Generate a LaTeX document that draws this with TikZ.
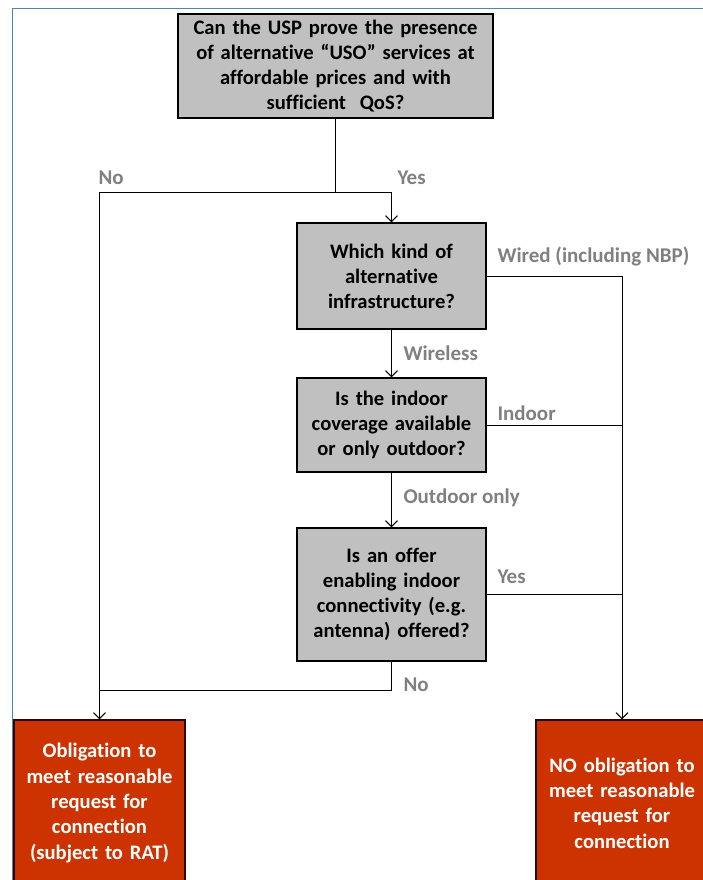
\documentclass[tikz,border=0pt]{standalone}
\usepackage{fontspec}
\setmainfont[Ligatures=NoCommon]{Carlito}
\usetikzlibrary{arrows.meta}
\definecolor{boxgray}{HTML}{C0C0C0}
\definecolor{outred}{HTML}{CC3300}
\definecolor{lblgray}{HTML}{808080}
\definecolor{framblue}{HTML}{4F81BD}
\tikzset{
  question/.style={draw=black,line width=1.3pt,fill=boxgray,align=center,inner sep=3pt,
    font=\fontsize{20.6}{25}\selectfont\bfseries},
  outcome/.style={draw=black!80!outred,line width=1.3pt,fill=outred,text=white,align=center,inner sep=3pt,
    font=\fontsize{20.6}{25.3}\selectfont\bfseries},
  answer/.style={anchor=west,text=lblgray,inner sep=0pt,font=\fontsize{21}{24}\selectfont\bfseries},
  arr/.style={-{Straight Barb[length=6pt,width=12pt]}},
}
\begin{document}
\begin{tikzpicture}[x=1pt,y=-1pt,line width=1pt]
\useasboundingbox (0,0) rectangle (703,880);
\clip (0,0) rectangle (703,880);
% frame
\draw[framblue,line width=1.5pt] (12.5,920) -- (12.5,8.5) -- (740,8.5);

% questions
\node[question,text width=309pt,minimum height=104pt] (q1) at (335.5,66)
  {Can the USP prove the presence\\of alternative “USO” services at\\affordable prices and with\\sufficient\ \ QoS?};
\node[question,text width=183pt,minimum height=106pt] (q2) at (391.5,276)
  {Which kind of\\alternative\\infrastructure?};
\node[question,text width=183pt,minimum height=94pt] (q3) at (391.5,425)
  {Is the indoor\\coverage available\\or only outdoor?};
\node[question,text width=183pt,minimum height=133pt] (q4) at (391.5,594.5)
  {Is an offer\\enabling indoor\\connectivity (e.g.\\antenna) offered?};

% outcomes
\node[outcome,text width=165pt,minimum height=166pt] (ob) at (99.5,803)
  {Obligation to\\meet reasonable\\request for\\connection\\(subject to RAT)};
\node[outcome,text width=166pt,minimum height=166pt] (nob) at (622,803)
  {NO obligation to\\meet reasonable\\request for\\connection};

% helper points
\coordinate (split) at (q1.south |- 0,192);
\coordinate (noJoin) at (ob.north |- 0,690);

% connectors
\draw (q1.south) -- (split);
\draw[arr] (split) -| (q2.north);
\draw[arr] (split) -| (ob.north);
\draw[arr] (q2.east) -| (nob.north);
\draw (q3.east) -- (q3.east -| nob.north);
\draw (q4.east) -- (q4.east -| nob.north);
\draw[arr] (q2) -- (q3);
\draw[arr] (q3) -- (q4);
\draw (q4.south) |- (noJoin);

% answers
\node[answer] (aNo) at (98,178) {No};
\node[answer] (aYes) at (397,178) {Yes};
\node[answer] (aWired) at (497,256) {Wired (including NBP)};
\node[answer] (aWireless) at (403,353) {Wireless};
\node[answer] (aIndoor) at (497,413) {Indoor};
\node[answer] (aOutdoor) at (403,498) {Outdoor only};
\node[answer] (aYes2) at (497,577) {Yes};
\node[answer] (aNo2) at (403,685) {No};
\end{tikzpicture}
\end{document}
